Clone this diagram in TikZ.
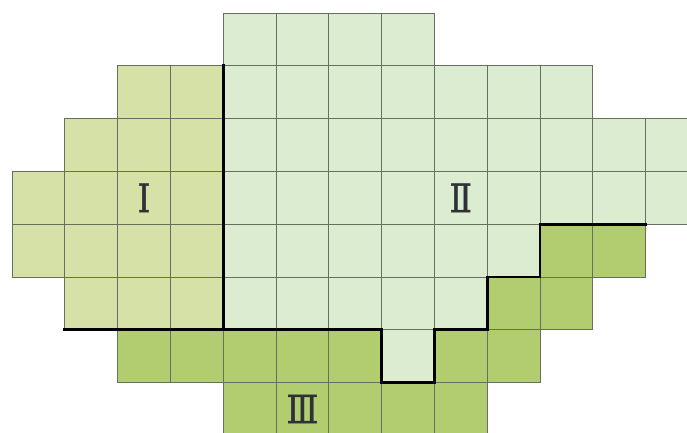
\documentclass[tikz,border=0pt]{standalone}
\usepackage{fontspec}
\newfontfamily\labfont[FakeBold=1.2]{DejaVu Serif}
\definecolor{colI}{HTML}{D6E1A8}
\definecolor{colII}{HTML}{DCECD0}
\definecolor{colIII}{HTML}{B2CD70}
\definecolor{gridc}{HTML}{66705E}
\definecolor{labc}{HTML}{2E3236}
\tikzset{
  cellI/.style={fill=colI,draw=gridc,line width=0.8pt},
  cellII/.style={fill=colII,draw=gridc,line width=0.8pt},
  cellIII/.style={fill=colIII,draw=gridc,line width=0.8pt},
  border/.style={draw=black,line width=2.8pt,line cap=rect,line join=miter},
  lab/.style={text=labc,font=\labfont\fontsize{39}{39}\selectfont,inner sep=0pt}
}
\newcommand{\labtext}[1]{\scalebox{0.85}[1]{#1}}
\begin{document}
\begin{tikzpicture}[x=52.8pt,y=-52.8pt]
\useasboundingbox (-0.2273,-0.2462) rectangle (12.7841,7.9545);
\clip (-0.2273,-0.2462) rectangle (12.7841,7.9545);
% region I
\foreach \r/\a/\b in {1/2/3,2/1/3,3/0/3,4/0/3,5/1/3}
  \foreach \c in {\a,...,\b} \draw[cellI] (\c,\r) rectangle ++(1,1);
% region II
\foreach \r/\a/\b in {0/4/7,1/4/10,2/4/12,3/4/12,4/4/9,5/4/8,6/7/7}
  \foreach \c in {\a,...,\b} \draw[cellII] (\c,\r) rectangle ++(1,1);
% region III
\foreach \r/\a/\b in {4/10/11,5/9/10,6/2/6,6/8/9,7/4/8}
  \foreach \c in {\a,...,\b} \draw[cellIII] (\c,\r) rectangle ++(1,1);
% borders
\draw[border] (4,1) -- (4,6);
\draw[border] (1,6) -- (7,6) -- (7,7) -- (8,7) -- (8,6) -- (9,6) -- (9,5) -- (10,5) -- (10,4) -- (12,4);
% labels
\node[lab] (l1) at (2.5,3.5) {\labtext{Ⅰ}};
\node[lab] (l2) at (8.5,3.5) {\labtext{Ⅱ}};
\node[lab] (l3) at (5.5,7.5) {\labtext{Ⅲ}};
\end{tikzpicture}
\end{document}
